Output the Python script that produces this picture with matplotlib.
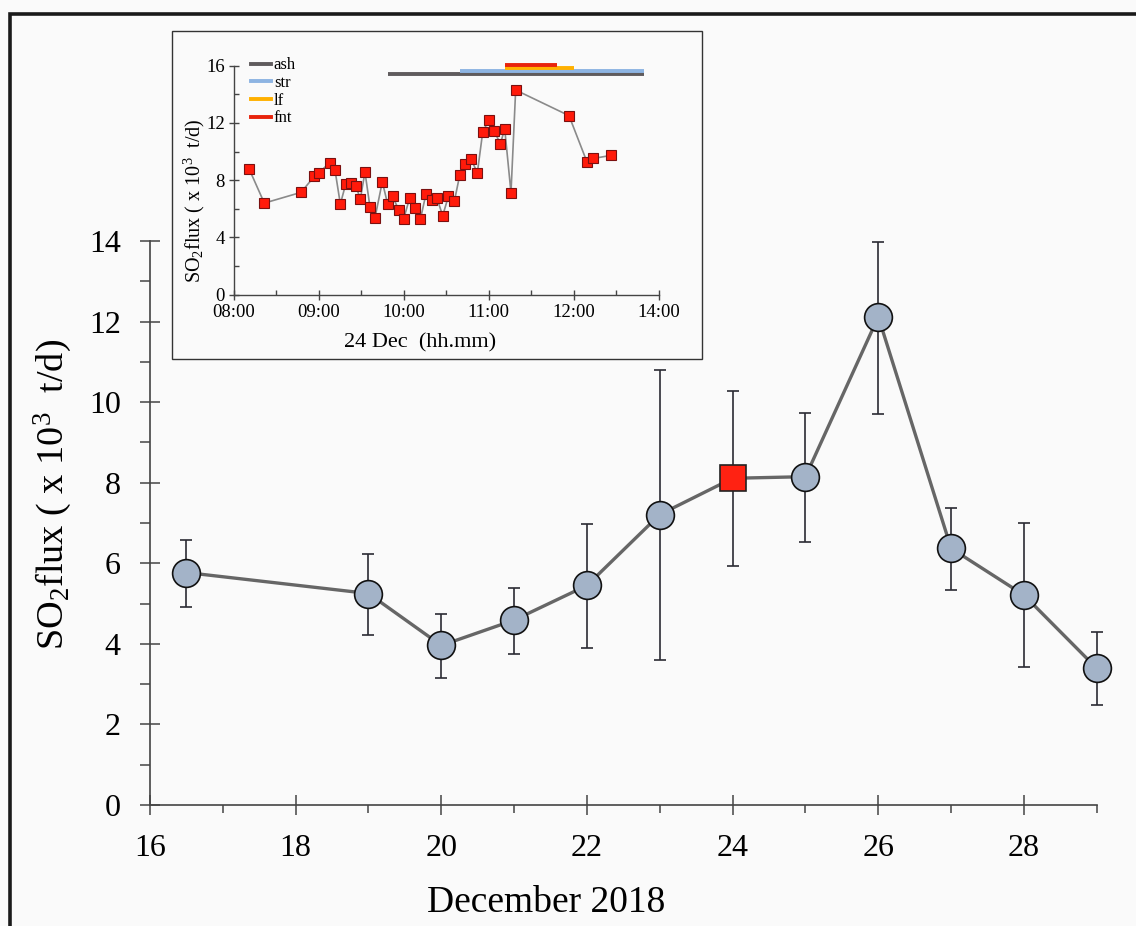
import matplotlib
matplotlib.use("Agg")
import matplotlib.pyplot as plt
import numpy as np
from matplotlib.lines import Line2D
from matplotlib.patches import Rectangle
from matplotlib.ticker import FixedLocator, MultipleLocator

plt.rcParams['font.family'] = ['Liberation Serif', 'DejaVu Serif']
plt.rcParams['mathtext.fontset'] = 'custom'
plt.rcParams['mathtext.rm'] = 'Liberation Serif'
plt.rcParams['mathtext.it'] = 'Liberation Serif'

# ---- main data: daily SO2 flux (x10^3 t/d), December 2018
days = [16.5, 19, 20, 21, 22, 23, 24, 25, 26, 27, 28, 29]
flux = [5.77, 5.25, 3.96, 4.59, 5.45, 7.21, 8.11, 8.15, 12.12, 6.37, 5.21, 3.39]
err_low = [4.91, 4.23, 3.15, 3.74, 3.90, 3.60, 5.93, 6.54, 9.70, 5.34, 3.43, 2.47]
err_high = [6.59, 6.22, 4.73, 5.39, 6.98, 10.80, 10.28, 9.74, 13.97, 7.36, 7.01, 4.30]
highlight_day = 24

main_xticks = [16, 18, 20, 22, 24, 26, 28]
main_yticks = [0, 2, 4, 6, 8, 10, 12, 14]

# ---- inset data: 24 Dec, time in decimal hours
inset_time = [8.177, 8.357, 8.789, 8.946, 8.997, 9.126, 9.189, 9.252, 9.315, 9.374,
              9.436, 9.487, 9.542, 9.601, 9.660, 9.746, 9.809, 9.868, 9.939, 9.998,
              10.068, 10.127, 10.194, 10.261, 10.327, 10.390, 10.457, 10.524, 10.594, 10.657,
              10.724, 10.790, 10.865, 10.928, 10.998, 11.065, 11.136, 11.187, 11.261, 11.316,
              11.944, 12.156, 12.231, 12.435]
inset_flux = [8.80, 6.40, 7.15, 8.27, 8.50, 9.22, 8.71, 6.33, 7.73, 7.82,
              7.59, 6.68, 8.57, 6.12, 5.38, 7.89, 6.33, 6.87, 5.92, 5.31,
              6.75, 6.08, 5.26, 7.06, 6.61, 6.73, 5.52, 6.87, 6.52, 8.34,
              9.11, 9.48, 8.52, 11.36, 12.18, 11.43, 10.53, 11.60, 7.13, 14.30,
              12.51, 9.27, 9.52, 9.73]

# activity periods (start, end in decimal hours) and their plotting level
phase_names = ['ash', 'str', 'lf', 'fnt']
phase_start = [9.809, 10.661, 11.191, 11.191]
phase_end = [12.827, 12.827, 12.003, 11.799]
phase_level = [15.44, 15.63, 15.84, 16.05]
phase_colors = ['#5f5b5d', '#8db4e2', '#ffb000', '#e8230c']

inset_xticks = [8, 9, 10, 11, 12, 13]
inset_xticklabels = ['08:00', '09:00', '10:00', '11:00', '12:00', '14:00']
inset_yticks = [0, 4, 8, 12, 16]

W, H = 1136, 926
fig = plt.figure(figsize=(W / 100, H / 100), dpi=100, facecolor='#fafafa')

# outer frame
fig.patches.append(Rectangle((9.5 / W, -0.05), 1.2, 1 - 13.5 / H + 0.05,
                             transform=fig.transFigure, fill=False,
                             edgecolor='#1a1a1a', lw=2.6, zorder=0))

# ---------------- main axes ----------------
ax = fig.add_axes([150 / W, 1 - 805 / H, (1096.8 - 150) / W, (805 - 241) / H])
ax.set_facecolor('none')
ax.set_xlim(16, 29)
ax.set_ylim(0, 14)
for s in ['top', 'right']:
    ax.spines[s].set_visible(False)
for s in ['left', 'bottom']:
    ax.spines[s].set_color('#444444')
    ax.spines[s].set_linewidth(1.2)

days_a = np.array(days)
flux_a = np.array(flux)
yerr = [flux_a - np.array(err_low), np.array(err_high) - flux_a]

ax.plot(days_a, flux_a, color='#666666', lw=2.4, zorder=2, clip_on=False)
eb = ax.errorbar(days_a, flux_a, yerr=yerr, fmt='none', ecolor='#2b2b33',
                 elinewidth=1.2, capsize=4.5, capthick=1.2, zorder=1)
for art in eb.lines[1] + eb.lines[2]:
    art.set_clip_on(False)
mask = days_a != highlight_day
ax.plot(days_a[mask], flux_a[mask], 'o', ms=20, mfc='#a3b3c8', mec='#111111',
        mew=1.2, ls='none', zorder=3, clip_on=False)
ax.plot(days_a[~mask], flux_a[~mask], 's', ms=19, mfc='#ff2212', mec='#222222',
        mew=1.2, ls='none', zorder=3, clip_on=False)

ax.xaxis.set_major_locator(FixedLocator(main_xticks))
ax.xaxis.set_minor_locator(MultipleLocator(1))
ax.yaxis.set_major_locator(FixedLocator(main_yticks))
ax.yaxis.set_minor_locator(MultipleLocator(1))
ax.tick_params(axis='both', which='major', direction='inout', length=14, width=1.1,
               color='#444444', labelsize=23)
ax.tick_params(axis='x', which='minor', direction='out', length=6, width=1.1, color='#444444')
ax.tick_params(axis='y', which='minor', direction='out', length=7, width=1.1, color='#444444')
ax.tick_params(axis='x', which='major', pad=14)
ax.tick_params(axis='y', which='major', pad=14)
ax.set_xlabel('December 2018', fontsize=27)
ax.xaxis.set_label_coords(0.418, -0.143)
ax.set_ylabel(r'SO$_2$flux ( x 10$^3$  t/d)', fontsize=27.5)
ax.yaxis.set_label_coords(-0.08, 0.55)

# ---------------- inset ----------------
fig.patches.append(Rectangle((172 / W, 1 - 359 / H), 530 / W, 328 / H,
                             transform=fig.transFigure, fill=True,
                             facecolor='#fafafa', edgecolor='#333333', lw=1.0, zorder=1))

axi = fig.add_axes([234 / W, 1 - 294.7 / H, (658.7 - 234) / W, (294.7 - 65.7) / H], zorder=5)
axi.set_facecolor('none')
axi.set_xlim(8, 13)
axi.set_ylim(0, 16)
for s in ['top', 'right']:
    axi.spines[s].set_visible(False)
for s in ['left', 'bottom']:
    axi.spines[s].set_color('#444444')
    axi.spines[s].set_linewidth(1.0)

axi.plot(inset_time, inset_flux, '-', color='#8a8a8a', lw=1.2, zorder=2)
axi.plot(inset_time, inset_flux, 's', ms=6.5, mfc='#ff1a0a', mec='#7a1010',
         mew=0.8, ls='none', zorder=3)

for name, s0, s1, lev, c in zip(phase_names, phase_start, phase_end, phase_level, phase_colors):
    axi.hlines(lev, s0, s1, colors=c, lw=2.8, clip_on=False, zorder=2)

handles = [Line2D([0], [0], color=c, lw=2.8) for c in phase_colors]
leg = axi.legend(handles, phase_names, loc='upper left', bbox_to_anchor=(0.025, 1.065),
                 frameon=False, fontsize=12, handlelength=1.2, handletextpad=0.15,
                 labelspacing=0.1, borderaxespad=0.0)

axi.xaxis.set_major_locator(FixedLocator(inset_xticks))
axi.set_xticklabels(inset_xticklabels)
axi.xaxis.set_minor_locator(MultipleLocator(0.5))
axi.yaxis.set_major_locator(FixedLocator(inset_yticks))
axi.yaxis.set_minor_locator(MultipleLocator(2))
axi.tick_params(axis='both', which='major', direction='inout', length=7, width=1.0,
                color='#444444', labelsize=13.5, pad=3)
axi.tick_params(axis='both', which='minor', direction='in', length=3.5, width=1.0,
                color='#444444')
axi.set_xlabel('24 Dec  (hh.mm)', fontsize=16)
axi.xaxis.set_label_coords(0.438, -0.17)
axi.set_ylabel(r'SO$_2$flux ( x 10$^3$  t/d)', fontsize=14.5)
axi.yaxis.set_label_coords(-0.064, 0.41)

fig.savefig('out.png', dpi=100, facecolor=fig.get_facecolor())
